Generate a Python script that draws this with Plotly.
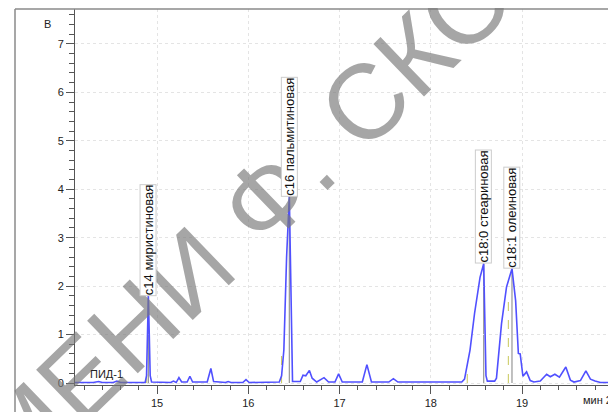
import plotly.graph_objects as go

# ---- data ----
time_min = [14.10, 14.30, 14.36, 14.40, 14.52, 14.56, 14.60, 14.87, 14.885, 14.895, 14.905, 14.915,
            14.925, 14.94, 15.15, 15.18, 15.21, 15.24, 15.27, 15.33, 15.36, 15.39, 15.55, 15.59,
            15.62, 15.75, 15.78, 15.81, 15.94, 15.975, 16.01, 16.34, 16.365, 16.39, 16.42, 16.45,
            16.465, 16.475, 16.485, 16.57, 16.60, 16.63, 16.67, 16.70, 16.75, 16.83, 16.88, 16.95,
            16.99, 17.03, 17.25, 17.30, 17.35, 17.54, 17.59, 17.64, 18.34, 18.37, 18.40, 18.43,
            18.48, 18.54, 18.58, 18.595, 18.605, 18.62, 18.70, 18.72, 18.745, 18.775, 18.83, 18.89,
            18.93, 18.96, 18.98, 19.01, 19.05, 19.09, 19.13, 19.20, 19.27, 19.31, 19.36, 19.41,
            19.48, 19.53, 19.57, 19.64, 19.70, 19.75, 19.80, 19.86, 20.05]
signal_v = [0.01, 0.01, 0.03, 0.01, 0.01, 0.04, 0.01, 0.01, 0.15, 0.9, 1.8, 1.0,
            0.15, 0.02, 0.01, 0.04, 0.01, 0.11, 0.02, 0.02, 0.14, 0.02, 0.02, 0.30,
            0.03, 0.01, 0.03, 0.01, 0.01, 0.07, 0.01, 0.02, 0.15, 0.68, 2.6, 3.85,
            2.0, 0.3, 0.03, 0.03, 0.16, 0.15, 0.26, 0.10, 0.02, 0.11, 0.02, 0.02,
            0.19, 0.02, 0.02, 0.38, 0.02, 0.02, 0.09, 0.02, 0.02, 0.08, 0.35, 0.68,
            1.44, 2.18, 2.46, 1.2, 0.15, 0.04, 0.04, 0.10, 0.60, 1.22, 1.98, 2.36,
            1.70, 0.61, 0.60, 0.14, 0.23, 0.05, 0.02, 0.04, 0.18, 0.13, 0.18, 0.12,
            0.33, 0.06, 0.02, 0.05, 0.25, 0.08, 0.04, 0.01, 0.01]

peak_names = ["c14 миристиновая", "c16 пальмитиновая", "c18:0 стеариновая", "c18:1 олеиновая"]
peak_times = [14.905, 16.45, 18.58, 18.89]
peak_heights = [1.8, 3.85, 2.46, 2.36]
start_times = [14.887, 16.365, 18.40, 18.85]
start_heights = [0.33, 0.68, 0.37, 1.85]

x_ticks = [15, 16, 17, 18, 19, 20]
x_tick_text = ["15", "16", "17", "18", "19", ""]
y_ticks = [0, 1, 2, 3, 4, 5, 6, 7]

OFF = 8                      # page body margin
W, H = 616 - OFF, 412 - OFF
L, T, B = 75 - OFF, 9 - OFF, 412 - 385

fig = go.Figure()
fig.add_trace(go.Scatter(x=time_min, y=signal_v, mode="lines",
                         line=dict(color="rgb(80,80,255)", width=1.6),
                         hoverinfo="skip", showlegend=False))

# helpers: page pixel -> paper coordinate
px = lambda p: (p - OFF - L) / (W - L)
py = lambda p: 1 - (p - OFF - T) / (H - T - B)

shapes = []
for t, h in zip(peak_times, peak_heights):
    shapes.append(dict(type="line", xref="x", yref="y", x0=t, x1=t, y0=0, y1=h,
                       line=dict(color="rgb(150,150,150)", width=1.2), layer="below"))
for t, h in zip(start_times, start_heights):
    shapes.append(dict(type="line", xref="x", yref="y", x0=t, x1=t, y0=0, y1=h,
                       line=dict(color="rgb(200,200,90)", width=1, dash="dash"), layer="below"))
shapes.append(dict(type="line", xref="paper", yref="paper", x0=px(15), x1=px(15),
                   y0=py(420), y1=1, line=dict(color="#8a8a8a", width=1.5)))
shapes.append(dict(type="line", xref="paper", yref="paper", x0=px(15), x1=1.02,
                   y0=1, y1=1, line=dict(color="#8a8a8a", width=1.5)))

annotations = []
annotations.append(dict(text="ИМЕНИ Ф. СКОРИНЫ", xref="paper", yref="paper",
                        x=px(330), y=py(136), showarrow=False, textangle=-44,
                        font=dict(family="Liberation Sans", size=106, color="rgba(120,120,120,0.66)")))
for name, t, h in zip(peak_names, peak_times, peak_heights):
    annotations.append(dict(text=name, x=t, y=h, xref="x", yref="y", showarrow=False,
                            textangle=-90, xanchor="center", yanchor="bottom",
                            bgcolor="white", bordercolor="#cccccc", borderwidth=1, borderpad=0,
                            font=dict(family="Liberation Sans", size=13, color="#111")))
annotations.append(dict(text="ПИД-1", x=14.45, y=0.02, xref="x", yref="y", showarrow=False,
                        xanchor="center", yanchor="bottom",
                        font=dict(family="Liberation Sans", size=11, color="#222")))
annotations.append(dict(text="В", xref="paper", yref="paper", x=px(42), y=py(16),
                        showarrow=False, font=dict(family="Liberation Sans", size=11, color="#222")))
annotations.append(dict(text="мин 20", x=19.65, xref="x", y=0, yref="paper", yanchor="top",
                        xanchor="left", yshift=-7, showarrow=False,
                        font=dict(family="Liberation Sans", size=11, color="#222")))

fig.update_layout(
    width=W, height=H, margin=dict(l=L, r=0, t=T, b=B),
    paper_bgcolor="white", plot_bgcolor="white",
    shapes=shapes, annotations=annotations, showlegend=False,
    xaxis=dict(range=[14.101, 20.03], tickmode="array", tickvals=x_ticks, ticktext=x_tick_text,
               showgrid=True, gridcolor="#e4e4e4", griddash="3px,3px", gridwidth=1,
               showline=True, linecolor="#555", linewidth=1, zeroline=False,
               ticks="outside", ticklen=8, tickcolor="#555",
               minor=dict(tickmode="linear", tick0=14, dtick=0.2, ticks="outside", ticklen=4,
                          tickcolor="#555", showgrid=False),
               tickfont=dict(family="Liberation Sans", size=11, color="#222")),
    yaxis=dict(range=[-0.041, 7.72], tickmode="array", tickvals=y_ticks,
               showgrid=True, gridcolor="#e4e4e4", griddash="3px,3px", gridwidth=1,
               showline=True, linecolor="#555", linewidth=1, zeroline=False,
               ticks="outside", ticklen=8, tickcolor="#555",
               minor=dict(tickmode="linear", tick0=0, dtick=0.2, ticks="outside", ticklen=5,
                          tickcolor="#555", showgrid=False),
               tickfont=dict(family="Liberation Sans", size=11, color="#222")),
)

fig.write_html("out.html")
